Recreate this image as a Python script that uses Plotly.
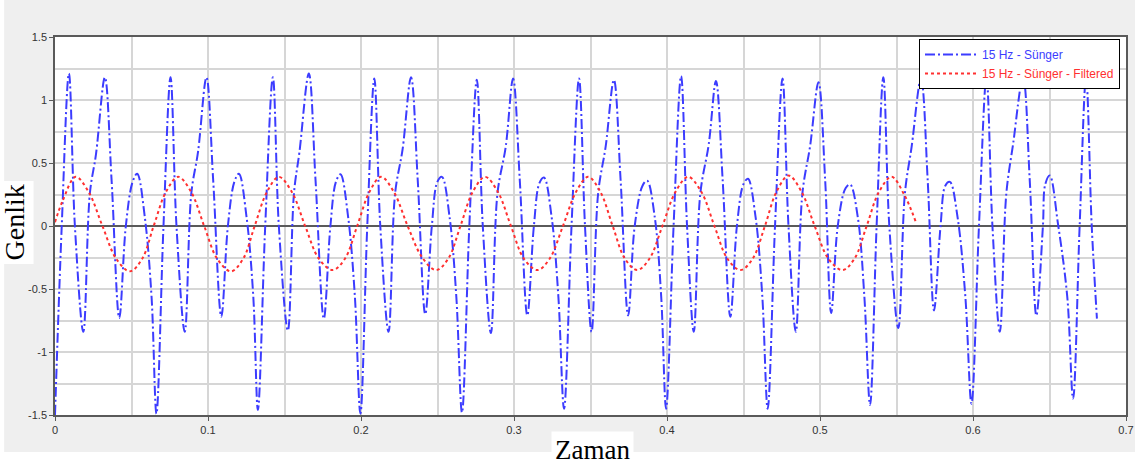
import plotly.graph_objects as go

# Raw signal: time (s) and amplitude, key points of the waveform
t_raw = [
    0.0000, 0.0044, 0.0091, 0.0130, 0.0185, 0.0228, 0.0268, 0.0326, 0.0370, 0.0420, 0.0463, 0.0507, 0.0537, 0.0587, 0.0631,
    0.0663, 0.0709, 0.0755, 0.0794, 0.0848, 0.0891, 0.0935, 0.0990, 0.1034, 0.1087, 0.1130, 0.1172, 0.1202, 0.1252, 0.1296,
    0.1326, 0.1374, 0.1424, 0.1463, 0.1522, 0.1562, 0.1598, 0.1659, 0.1703, 0.1757, 0.1800, 0.1836, 0.1866, 0.1916, 0.1960,
    0.1996, 0.2041, 0.2087, 0.2126, 0.2180, 0.2223, 0.2272, 0.2327, 0.2371, 0.2420, 0.2463, 0.2499, 0.2529, 0.2579, 0.2623,
    0.2660, 0.2708, 0.2757, 0.2796, 0.2849, 0.2892, 0.2946, 0.2994, 0.3038, 0.3087, 0.3130, 0.3166, 0.3196, 0.3246, 0.3290,
    0.3327, 0.3376, 0.3425, 0.3464, 0.3507, 0.3550, 0.3599, 0.3653, 0.3697, 0.3746, 0.3789, 0.3840, 0.3870, 0.3920, 0.3962,
    0.3994, 0.4043, 0.4092, 0.4131, 0.4175, 0.4218, 0.4273, 0.4320, 0.4364, 0.4414, 0.4457, 0.4499, 0.4529, 0.4579, 0.4623,
    0.4658, 0.4706, 0.4755, 0.4794, 0.4842, 0.4885, 0.4936, 0.4990, 0.5034, 0.5073, 0.5116, 0.5167, 0.5197, 0.5247, 0.5290,
    0.5327, 0.5370, 0.5414, 0.5453, 0.5512, 0.5555, 0.5599, 0.5660, 0.5704, 0.5745, 0.5788, 0.5819, 0.5849, 0.5899, 0.5950,
    0.5990, 0.6039, 0.6088, 0.6127, 0.6175, 0.6218, 0.6262, 0.6327, 0.6371, 0.6414, 0.6457, 0.6472, 0.6502, 0.6555, 0.6616,
    0.6654, 0.6697, 0.6739, 0.6776, 0.6810,
]
y_raw = [
    -1.50, 0.00, 1.21, 0.00, -0.84, 0.26, 0.57, 1.18, 0.36, -0.73, 0.00, 0.35, 0.415, 0.07, -0.56,
    -1.49, 0.00, 1.18, 0.00, -0.84, 0.26, 0.59, 1.18, 0.36, -0.72, 0.00, 0.35, 0.415, 0.07, -0.56,
    -1.46, 0.00, 1.18, 0.00, -0.83, 0.26, 0.59, 1.21, 0.36, -0.735, 0.00, 0.35, 0.41, 0.07, -0.56,
    -1.49, 0.00, 1.17, 0.00, -0.84, 0.26, 0.61, 1.18, 0.36, -0.70, 0.00, 0.35, 0.39, 0.07, -0.56,
    -1.48, 0.00, 1.16, 0.00, -0.85, 0.26, 0.63, 1.17, 0.36, -0.71, 0.00, 0.34, 0.385, 0.07, -0.56,
    -1.45, 0.00, 1.17, 0.00, -0.84, 0.26, 0.63, 1.16, 0.36, -0.71, 0.00, 0.32, 0.36, 0.07, -0.56,
    -1.45, 0.00, 1.19, 0.00, -0.84, 0.26, 0.65, 1.15, 0.36, -0.72, 0.00, 0.33, 0.375, 0.07, -0.56,
    -1.45, 0.00, 1.17, 0.00, -0.84, 0.26, 0.64, 1.14, 0.36, -0.69, 0.00, 0.30, 0.33, 0.07, -0.56,
    -1.42, 0.00, 1.18, 0.00, -0.81, 0.26, 0.63, 1.17, 0.36, -0.67, 0.00, 0.32, 0.35, 0.07, -0.56,
    -1.41, 0.00, 1.18, 0.00, -0.84, 0.26, 0.65, 1.18, 0.36, -0.71, 0.00, 0.33, 0.40, 0.02, -0.56,
    -1.37, 0.00, 1.18, 0.00, -0.735,
]

# Filtered signal
t_filt = [
    0.0000, 0.0050, 0.0135, 0.0220, 0.0310, 0.0400, 0.0490, 0.0570, 0.0645, 0.0725,
    0.0805, 0.0890, 0.0975, 0.1060, 0.1150, 0.1230, 0.1305, 0.1385,
    0.1463, 0.1548, 0.1635, 0.1725, 0.1815, 0.1895, 0.1975, 0.2055,
    0.2131, 0.2215, 0.2305, 0.2400, 0.2490, 0.2570, 0.2650, 0.2730,
    0.2811, 0.2895, 0.2980, 0.3065, 0.3153, 0.3233, 0.3320, 0.3405,
    0.3485, 0.3565, 0.3645, 0.3725, 0.3805, 0.3885, 0.3970, 0.4055,
    0.4138, 0.4225, 0.4310, 0.4395, 0.4480, 0.4560, 0.4640, 0.4715,
    0.4795, 0.4880, 0.4965, 0.5055, 0.5147, 0.5225, 0.5305, 0.5385,
    0.5468, 0.5550, 0.5627,
]
y_filt = [
    0.03, 0.20, 0.39, 0.27, 0.00, -0.26, -0.36, -0.26, 0.00, 0.27,
    0.39, 0.27, 0.00, -0.26, -0.36, -0.26, 0.00, 0.27,
    0.39, 0.27, 0.00, -0.26, -0.35, -0.26, 0.00, 0.27,
    0.39, 0.27, 0.00, -0.25, -0.35, -0.26, 0.00, 0.27,
    0.39, 0.27, 0.00, -0.26, -0.35, -0.26, 0.00, 0.27,
    0.39, 0.27, 0.00, -0.26, -0.35, -0.26, 0.00, 0.27,
    0.39, 0.27, 0.00, -0.26, -0.35, -0.26, 0.00, 0.27,
    0.40, 0.27, 0.00, -0.26, -0.35, -0.26, 0.00, 0.27,
    0.39, 0.25, 0.03,
]

x_ticks = [0, 0.1, 0.2, 0.3, 0.4, 0.5, 0.6, 0.7]
x_labels = ["0", "0.1", "0.2", "0.3", "0.4", "0.5", "0.6", "0.7"]
y_ticks = [1.5, 1, 0.5, 0, -0.5, -1, -1.5]
y_labels = ["1.5", "1", "0.5", "0", "-0.5", "-1", "-1.5"]

BLUE = "#3c3cff"
RED = "#ff3030"
GRID = "#d6d6d6"
AXIS = "#5a5a5a"

fig = go.Figure()
fig.add_trace(go.Scatter(
    x=t_raw, y=y_raw, mode="lines",
    name=f"<span style='color:{BLUE}'>15 Hz - Sünger</span>",
    line=dict(color=BLUE, width=2, dash="10px,3px,2px,3px", shape="spline", smoothing=1.0),
))
fig.add_trace(go.Scatter(
    x=t_filt, y=y_filt, mode="lines",
    name=f"<span style='color:{RED}'>15 Hz - Sünger - Filtered</span>",
    line=dict(color=RED, width=2, dash="3px,3px", shape="spline", smoothing=1.0),
))

tick_font = dict(family="Liberation Sans, Arial, sans-serif", size=11, color="#333333")

fig.update_layout(
    width=1146, height=466,
    margin=dict(l=55, r=18, t=37, b=51),
    paper_bgcolor="#efefef",
    plot_bgcolor="white",
    showlegend=True,
    legend=dict(
        x=0.9944, y=0.9947, xanchor="right", yanchor="top",
        bgcolor="white", bordercolor="black", borderwidth=1,
        font=dict(family="Liberation Sans, Arial, sans-serif", size=12),
        tracegroupgap=0, itemwidth=52,
    ),
    xaxis=dict(
        range=[0, 0.7], tickvals=x_ticks, ticktext=x_labels,
        showgrid=True, gridcolor=GRID, gridwidth=1.5,
        minor=dict(dtick=0.05, tick0=0, showgrid=True, gridcolor=GRID, gridwidth=1.5, ticks=""),
        showline=True, linecolor=AXIS, linewidth=1.5, mirror=True,
        ticks="outside", ticklen=4, tickcolor=AXIS,
        zeroline=False, tickfont=tick_font,
    ),
    yaxis=dict(
        range=[-1.5, 1.5], tickvals=y_ticks, ticktext=y_labels,
        showgrid=True, gridcolor=GRID, gridwidth=1.5,
        minor=dict(dtick=0.25, tick0=0, showgrid=True, gridcolor=GRID, gridwidth=1.5, ticks=""),
        showline=True, linecolor=AXIS, linewidth=1.5, mirror=True,
        ticks="outside", ticklen=4, tickcolor=AXIS,
        zeroline=True, zerolinecolor=AXIS, zerolinewidth=1.5,
        tickfont=tick_font,
    ),
    annotations=[
        dict(text="Genlik", xref="paper", yref="paper", x=-0.038, y=0.51,
             xanchor="center", yanchor="middle", textangle=-90, showarrow=False,
             font=dict(family="Liberation Serif, Times New Roman, serif", size=28, color="black"),
             bgcolor="white", borderpad=3),
        dict(text="Zaman", xref="paper", yref="paper", x=0.5015, y=-0.092,
             xanchor="center", yanchor="middle", showarrow=False,
             font=dict(family="Liberation Serif, Times New Roman, serif", size=27, color="black"),
             bgcolor="white", borderpad=3),
    ],
    shapes=[
        # white outer strips around the grey panel
        dict(type="rect", xref="paper", yref="paper", x0=-0.06, x1=1.02, y0=-0.2, y1=-0.098,
             fillcolor="white", line=dict(width=0), layer="below"),
        dict(type="rect", xref="paper", yref="paper", x0=-0.06, x1=-0.0475, y0=-0.2, y1=1.2,
             fillcolor="white", line=dict(width=0), layer="below"),
        dict(type="rect", xref="paper", yref="paper", x0=1.0084, x1=1.02, y0=-0.2, y1=1.2,
             fillcolor="white", line=dict(width=0), layer="below"),
    ],
)

fig.write_html("out.html")
